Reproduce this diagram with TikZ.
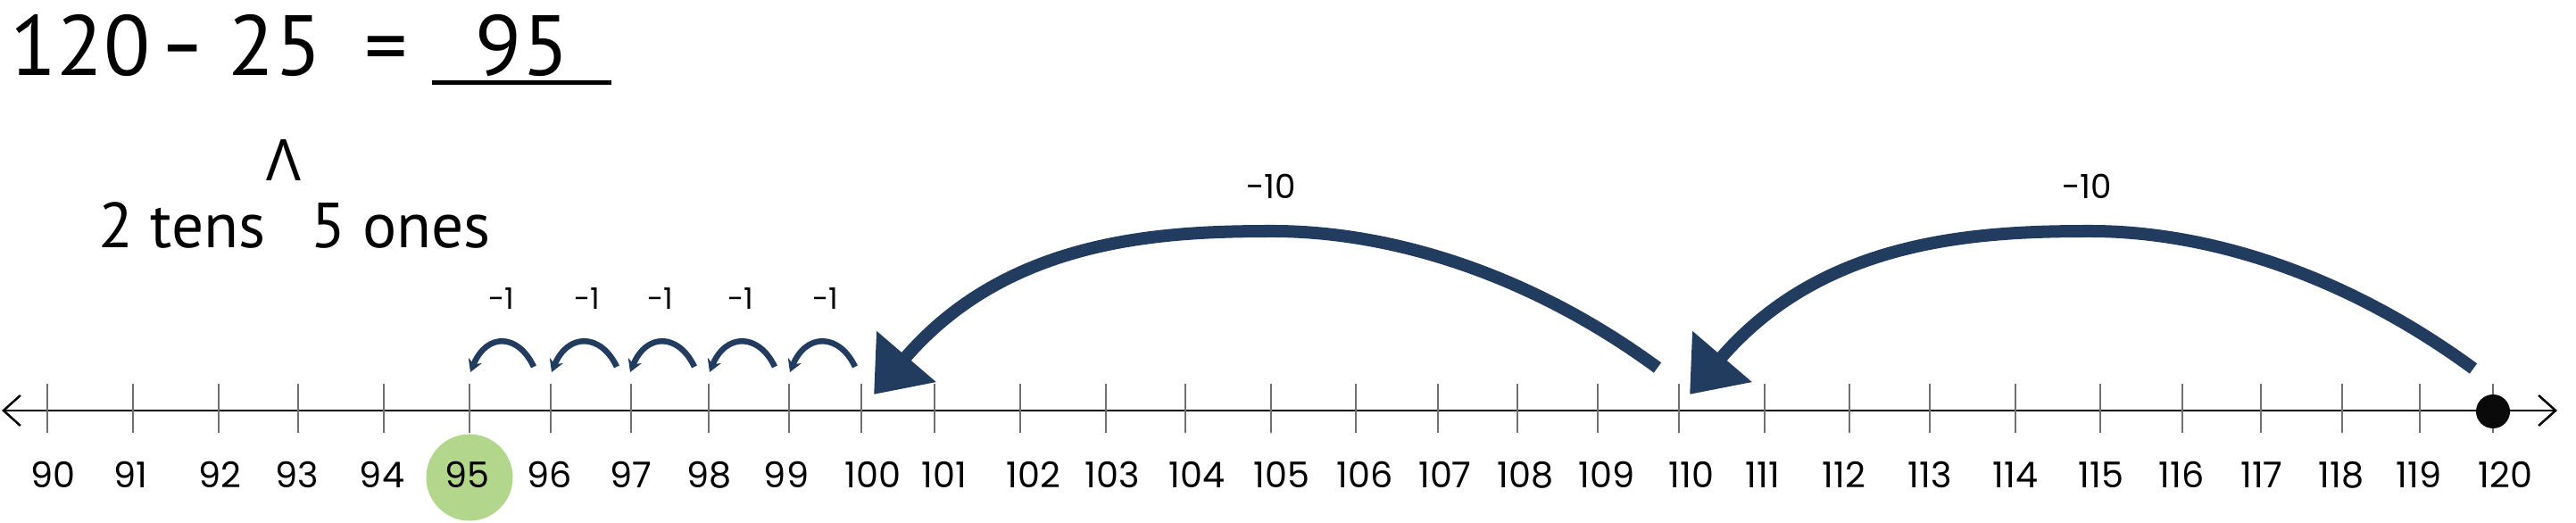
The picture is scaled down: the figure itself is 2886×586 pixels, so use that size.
\documentclass[tikz,border=0pt]{standalone}
\usepackage{fontspec}
\setmainfont{PT Sans}
\newfontfamily\hand{Poppins}
\newfontfamily\greekfont{Open Sans}
\usetikzlibrary{arrows.meta}
\definecolor{navy}{HTML}{223C5F}
\definecolor{ballgreen}{HTML}{B2D78C}
\definecolor{tickgray}{HTML}{707070}
\definecolor{dotblack}{HTML}{0A0A0A}
\begin{document}
\begin{tikzpicture}[x=0.01cm, y=-0.01cm,
  eq/.style={font=\fontsize{27.2pt}{30pt}\selectfont, inner sep=0pt, anchor=base},
  sub/.style={font=\fontsize{20.3pt}{24pt}\selectfont, inner sep=0pt, anchor=base},
  numlbl/.style={font=\hand\fontsize{11.3pt}{13pt}\selectfont, inner sep=0pt, anchor=base},
  jumplbl/.style={font=\hand\fontsize{9.4pt}{11pt}\selectfont, inner sep=0pt, anchor=base},
  tenlbl/.style={font=\hand\fontsize{10.6pt}{12pt}\selectfont, inner sep=0pt, anchor=base},
  tickline/.style={draw=tickgray, line width=0.2mm},
  axisline/.style={draw=black, line width=0.25mm, {Straight Barb[length=1.9mm,width=3.4mm]}-{Straight Barb[length=1.9mm,width=3.4mm]}},
  onejump/.style={draw=navy, line width=0.65mm, -{Stealth[length=1.4mm,width=1.6mm]}},
  tenjump/.style={draw=navy, line width=1.4mm, -{Triangle[length=5.6mm,width=8.4mm]}},
]
\useasboundingbox (0,0) rectangle (2886,586);

% equation
\node[eq] (eqa) at (90,85) {120};
\node[eq] (eqminus) at (205,85) {\scalebox{1.4}[1.1]{-}};
\node[eq] (eqb) at (308,85) {25};
\node[eq] (eqeq) at (433,85) {=};
\node[eq] (eqans) at (585,85) {95};
\coordinate (ulL) at (484,93);
\coordinate (ulR) at (685,93);
\draw[line width=0.5mm] (ulL) -- (ulR);

\node[font=\greekfont\fontsize{18.3pt}{20pt}\selectfont, inner sep=0pt, anchor=base] (caret) at (318,203) {Λ};
\node[sub] (tens) at (204,278) {2 tens};
\node[sub] (ones) at (449,278) {5 ones};

% highlight of the answer
\node[circle, fill=ballgreen, minimum size=9.7mm, inner sep=0pt] (ball) at (526,535) {};

% axis
\coordinate (axL) at (2,460);
\coordinate (axR) at (2865,460);
\draw[axisline] (axL) -- (axR);

\foreach \n/\x/\lx in {90/53/59,91/149/146,92/245/246,93/334/333,94/430/428,95/526/523,96/617/616,97/707/707,98/794/795,99/884/881,100/965/978,101/1047/1058,102/1143/1158,103/1239/1246,104/1328/1341,105/1424/1436,106/1519/1529,107/1611/1619,108/1700/1709,109/1790/1800,110/1881/1895,111/1977/1975,112/2072/2066,113/2162/2162,114/2258/2258,115/2353/2354,116/2445/2444,117/2533/2534,118/2624/2623,119/2711/2710,120/2793/2807}
{
  \draw[tickline] (\x,430) -- (\x,485);
  \node[numlbl] (n\n) at (\lx,547) {\n};
}

\node[circle, fill=dotblack, minimum size=3.8mm, inner sep=0pt] (start) at (2793,461) {};

% -1 jumps
\foreach \i/\xt/\xh/\lx in {1/598/527/562, 2/691/618/658, 3/778/706/740, 4/868/795/830, 5/958/885/925}
{
  \coordinate (s\i) at (\xt,411);
  \coordinate (e\i) at (\xh,417);
  \draw[onejump] (s\i) .. controls +(-18,-38) and +(18,-44) .. (e\i);
  \node[jumplbl] (j\i) at (\lx,347) {-1};
}

% -10 jumps
\coordinate (ta) at (2771,413);
\coordinate (pa) at (2342,259);
\coordinate (tb) at (1893,442);
\coordinate (tc) at (1857,412);
\coordinate (pc) at (1426,259);
\coordinate (td) at (979,442);
\draw[tenjump] (ta) .. controls +(-150,-110) and +(125,0) .. (pa) .. controls +(-125,0) and +(150,-175) .. (tb);
\draw[tenjump] (tc) .. controls +(-150,-110) and +(125,0) .. (pc) .. controls +(-125,0) and +(150,-175) .. (td);
\node[tenlbl] (ten1) at (2338,223) {-10};
\node[tenlbl] (ten2) at (1424,223) {-10};
\end{tikzpicture}
\end{document}
